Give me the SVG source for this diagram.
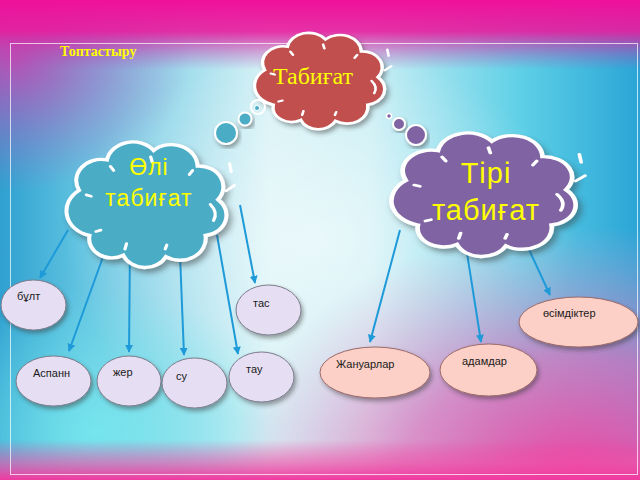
<svg xmlns="http://www.w3.org/2000/svg" width="640" height="480" viewBox="0 0 640 480">
<defs>
  <linearGradient id="bgH" x1="0" y1="0" x2="1" y2="0">
    <stop offset="0" stop-color="#2fa0d0"/>
    <stop offset="0.12" stop-color="#5ec2e0"/>
    <stop offset="0.42" stop-color="#d6f2f6"/>
    <stop offset="0.58" stop-color="#c8eef4"/>
    <stop offset="0.82" stop-color="#5ccfe6"/>
    <stop offset="1" stop-color="#2aa4d6"/>
  </linearGradient>
  <linearGradient id="topPink" x1="0" y1="0" x2="0" y2="1">
    <stop offset="0" stop-color="#f0109a" stop-opacity="1"/>
    <stop offset="0.45" stop-color="#e81c9e" stop-opacity="0.9"/>
    <stop offset="1" stop-color="#b050b8" stop-opacity="0"/>
  </linearGradient>
  <radialGradient id="leftPink" cx="0.02" cy="0.12" r="0.28">
    <stop offset="0" stop-color="#d040b0" stop-opacity="0.85"/>
    <stop offset="1" stop-color="#b060c0" stop-opacity="0"/>
  </radialGradient>
  <radialGradient id="botPink" cx="0.9" cy="1.02" r="0.55">
    <stop offset="0" stop-color="#f23c9e" stop-opacity="1"/>
    <stop offset="0.5" stop-color="#ee6cb8" stop-opacity="0.7"/>
    <stop offset="1" stop-color="#e8a0d0" stop-opacity="0"/>
  </radialGradient>
  <radialGradient id="botCyan" cx="0.15" cy="0.9" r="0.3">
    <stop offset="0" stop-color="#78eaee" stop-opacity="0.85"/>
    <stop offset="1" stop-color="#78eaee" stop-opacity="0"/>
  </radialGradient>
  <linearGradient id="botBand" x1="0" y1="0" x2="0" y2="1">
    <stop offset="0" stop-color="#f040a0" stop-opacity="0"/>
    <stop offset="0.55" stop-color="#f050a8" stop-opacity="0.6"/>
    <stop offset="1" stop-color="#f03aa0" stop-opacity="1"/>
  </linearGradient>
  <radialGradient id="centerLight" cx="0.5" cy="0.5" r="0.4">
    <stop offset="0" stop-color="#ffffff" stop-opacity="0.55"/>
    <stop offset="1" stop-color="#ffffff" stop-opacity="0"/>
  </radialGradient>
  <filter id="shadow" x="-20%" y="-20%" width="140%" height="140%">
    <feDropShadow dx="2" dy="3" stdDeviation="2" flood-color="#333" flood-opacity="0.45"/>
  </filter>
  <marker id="arr" viewBox="0 0 10 10" refX="9" refY="5" markerWidth="4" markerHeight="4" orient="auto">
    <path d="M0,0 L10,5 L0,10 Z" fill="#1e9ad8"/>
  </marker>
  <path id="cloud" d="M7.5,39.6 A15.6,15.6 0 0 1 24.8,17.2 A16.4,16.4 0 0 1 53.8,10.2 A16.3,16.3 0 0 1 81.1,21.7 A15.3,15.3 0 0 1 93.8,46.5 A15.2,15.2 0 0 1 86,73 A16,16 0 0 1 61.4,88.6 A14.5,14.5 0 0 1 35,87.6 A14.1,14.1 0 0 1 14,73 A18.7,18.7 0 0 1 7.5,39.6 Z"/>
  <path id="ticks" d="M27,22 L29,25 M52,15 L53,19 M78,25 L76,28 M89,50 Q94,56 91,62 M61,83 L62,80 M36,83 L37,79 M18,70 L21,69 M12,43 L15,44 M101,20 L102,26 M104,36 L99,40"/>
  <style>
    .cl { stroke: #ffffff; stroke-width: 2.5; filter: url(#shadow); }
    .tk { fill: none; stroke: #ffffff; stroke-width: 2; stroke-linecap: round; }
    .ns { vector-effect: non-scaling-stroke; }
    .lav { fill: #e6def2; stroke: #7c7c8c; stroke-width: 1; filter: url(#shadow); }
    .pnk { fill: #fcd0c6; stroke: #9a6a6a; stroke-width: 1; filter: url(#shadow); }
    .lbl { font-family: "Liberation Sans", Arial, sans-serif; font-size: 11px; fill: #1a1a1a; }
    .big { font-family: "Liberation Sans", Arial, sans-serif; fill: #ffff00; text-anchor: middle; }
    .con { stroke: #1e9ad8; stroke-width: 2; fill: none; marker-end: url(#arr); }
  </style>
</defs>

<!-- background -->
<rect x="0" y="0" width="640" height="480" fill="url(#bgH)"/>
<rect x="0" y="0" width="640" height="480" fill="url(#centerLight)"/>
<rect x="0" y="0" width="640" height="480" fill="url(#botCyan)"/>
<rect x="0" y="0" width="640" height="480" fill="url(#leftPink)"/>
<rect x="0" y="0" width="640" height="70" fill="url(#topPink)"/>
<rect x="0" y="0" width="640" height="480" fill="url(#botPink)"/>
<rect x="0" y="440" width="640" height="40" fill="url(#botBand)"/>
<rect x="10.5" y="43.5" width="627" height="431" fill="none" stroke="#ffffff" stroke-opacity="0.7" stroke-width="1"/>

<text x="60" y="56" font-family="Liberation Serif, Times New Roman, serif" font-weight="bold" font-size="14" fill="#ffff00">Топтастыру</text>

<!-- connectors -->
<g id="connectors">
  <line class="con" x1="68" y1="230" x2="40" y2="278"/>
  <line class="con" x1="103" y1="257" x2="69" y2="351"/>
  <line class="con" x1="130" y1="245" x2="129" y2="352"/>
  <line class="con" x1="180" y1="255" x2="184" y2="355"/>
  <line class="con" x1="217" y1="235" x2="238" y2="354"/>
  <line class="con" x1="240" y1="205" x2="255" y2="283"/>
  <line class="con" x1="400" y1="230" x2="370" y2="342"/>
  <line class="con" x1="467" y1="253" x2="481" y2="342"/>
  <line class="con" x1="520" y1="230" x2="550" y2="295"/>
</g>

<!-- thought bubbles -->
<g id="bubbles">
  <circle cx="226" cy="133" r="11" fill="#4bacc6" stroke="#fff" stroke-width="2" filter="url(#shadow)"/>
  <circle cx="245" cy="119" r="6.5" fill="#4bacc6" stroke="#fff" stroke-width="2" filter="url(#shadow)"/>
  <circle cx="389" cy="116" r="2.5" fill="#8064a2" stroke="#fff" stroke-width="1.5"/>
  <circle cx="399" cy="124" r="6" fill="#8064a2" stroke="#fff" stroke-width="2" filter="url(#shadow)"/>
  <circle cx="416" cy="135" r="10" fill="#8064a2" stroke="#fff" stroke-width="2" filter="url(#shadow)"/>
</g>

<g id="tabigat">
  <g transform="translate(255,28.8) scale(1.31,1.04)">
    <use href="#cloud" class="cl ns" fill="#c0504d"/>
    <use href="#ticks" class="tk ns"/>
  </g>
  <circle cx="258" cy="107" r="7" fill="none" stroke="#fff" stroke-width="2"/>
  <circle cx="257" cy="108" r="2.5" fill="#4bacc6" stroke="#fff" stroke-width="1"/>
  <text x="313" y="84" font-family="Liberation Serif, Times New Roman, serif" font-size="24" fill="#ffff00" text-anchor="middle">Табиғат</text>
</g>

<g id="oli">
  <g transform="translate(67,136.6) scale(1.61,1.355)">
    <use href="#cloud" class="cl ns" fill="#4bacc6"/>
    <use href="#ticks" class="tk ns"/>
  </g>
  <text class="big" x="149" y="175" font-size="23" letter-spacing="1">Өлі</text>
  <text class="big" x="149" y="206" font-size="23" letter-spacing="1">табиғат</text>
</g>

<g id="tiri">
  <g transform="translate(392,127.7) scale(1.855,1.333)">
    <use href="#cloud" class="cl ns" fill="#8064a2"/>
    <use href="#ticks" class="tk ns"/>
  </g>
  <text class="big" x="486" y="183" font-size="29" letter-spacing="1">Тірі</text>
  <text class="big" x="486" y="220" font-size="29" letter-spacing="1">табиғат</text>
</g>

<!-- leaf nodes -->
<g id="bult"><ellipse class="lav" cx="33.5" cy="305" rx="32.5" ry="25"/><text class="lbl" x="17" y="300">бұлт</text></g>
<g id="tas"><ellipse class="lav" cx="268.5" cy="310" rx="32.5" ry="25"/><text class="lbl" x="253" y="307">тас</text></g>
<g id="aspann"><ellipse class="lav" cx="53.5" cy="381" rx="37.5" ry="25"/><text class="lbl" x="33" y="377">Аспанн</text></g>
<g id="zher"><ellipse class="lav" cx="129" cy="381" rx="32" ry="25"/><text class="lbl" x="113" y="376">жер</text></g>
<g id="su"><ellipse class="lav" cx="194.5" cy="383" rx="32.5" ry="25"/><text class="lbl" x="176" y="380">су</text></g>
<g id="tau"><ellipse class="lav" cx="261.5" cy="377" rx="32.5" ry="25"/><text class="lbl" x="246" y="373">тау</text></g>

<g id="zhanuarlar"><ellipse class="pnk" cx="375" cy="372.5" rx="55" ry="25.5"/><text class="lbl" x="336" y="368">Жануарлар</text></g>
<g id="adamdar"><ellipse class="pnk" cx="488.5" cy="370" rx="48.5" ry="26"/><text class="lbl" x="462" y="365">адамдар</text></g>
<g id="osimdikter"><ellipse class="pnk" cx="578.5" cy="322" rx="59.5" ry="25"/><text class="lbl" x="543" y="317">өсімдіктер</text></g>
</svg>
